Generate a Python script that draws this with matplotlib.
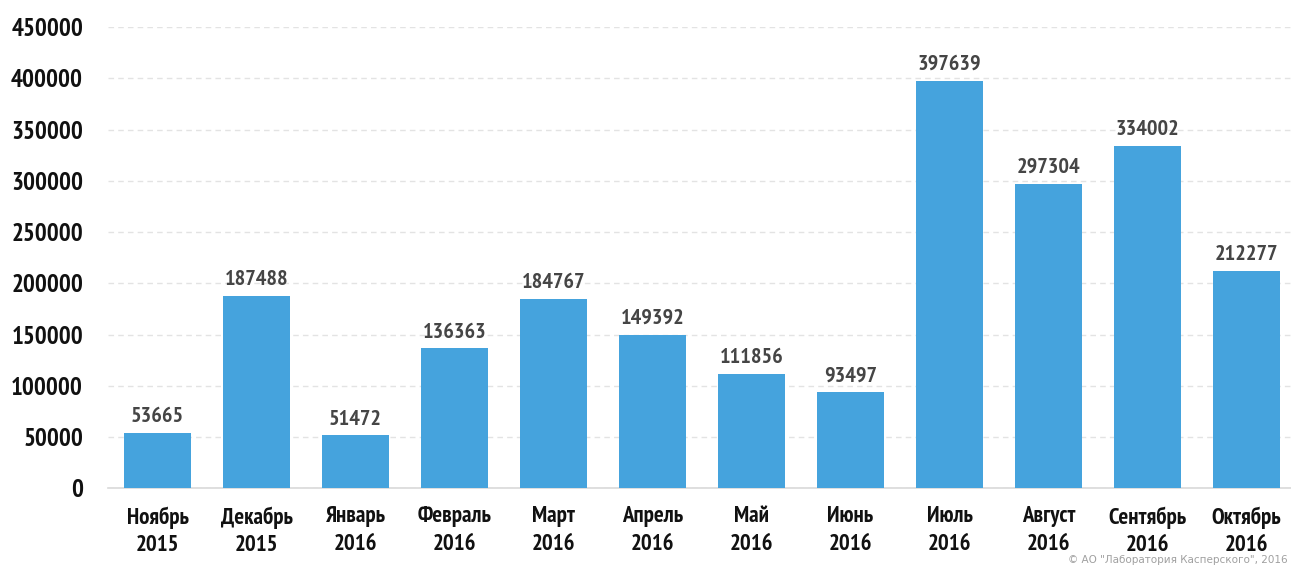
import matplotlib
matplotlib.use("Agg")
import matplotlib.pyplot as plt

categories = ["Ноябрь\n2015", "Декабрь\n2015", "Январь\n2016", "Февраль\n2016", "Март\n2016",
              "Апрель\n2016", "Май\n2016", "Июнь\n2016", "Июль\n2016", "Август\n2016",
              "Сентябрь\n2016", "Октябрь\n2016"]
values = [53665, 187488, 51472, 136363, 184767, 149392, 111856, 93497, 397639, 297304, 334002, 212277]
yticks = [0, 50000, 100000, 150000, 200000, 250000, 300000, 350000, 400000, 450000]

plt.rcParams['font.family'] = ['PT Sans Narrow', 'DejaVu Sans']

fig = plt.figure(figsize=(12.91, 5.67), dpi=100)
ax = fig.add_axes([0.0837, 0.139, 0.9163, 0.813])
x = list(range(len(values)))
ax.bar(x, values, width=0.67, color="#45a3dd", zorder=3)
ax.set_xlim(-0.5, 11.45)
ax.set_ylim(0, 450000)
ax.set_yticks(yticks)
ax.set_yticklabels([str(v) for v in yticks], fontsize=18, fontweight='bold', color='#111111')
ax.set_xticks(x)
ax.set_xticklabels(categories, fontsize=16.5, fontweight='bold', color='#111111', linespacing=1.4)
ax.tick_params(axis='both', length=0)
ax.tick_params(axis='y', pad=18)
ax.tick_params(axis='x', pad=13)
for s in ["top", "right", "left"]:
    ax.spines[s].set_visible(False)
ax.spines["bottom"].set_color("#d9d9d9")
ax.spines["bottom"].set_linewidth(1.2)
ax.yaxis.grid(True, linestyle=(0, (4, 3)), color="#e3e3e3", linewidth=1, zorder=0)
for i, v in enumerate(values):
    ax.annotate(str(v), (i, v), xytext=(0, 5), textcoords="offset points",
                ha="center", va="bottom", fontsize=16, fontweight='bold', color="#454545")
fig.text(0.997, 0.004, '© АО "Лаборатория Касперского", 2016', ha="right", va="bottom",
         fontsize=7.5, color="#a0a0a0", family=['DejaVu Sans'])
fig.savefig("out.png", dpi=100)
